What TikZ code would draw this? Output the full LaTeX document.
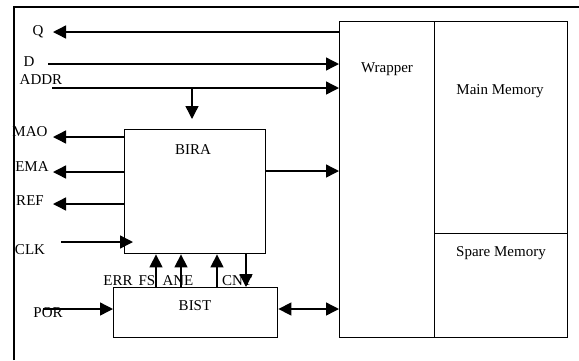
\documentclass[tikz,border=0pt]{standalone}
\usepackage{fontspec}
\setmainfont{Liberation Serif}
\usetikzlibrary{arrows.meta}
\begin{document}
\begin{tikzpicture}[x=1pt,y=-1pt, line width=1.4pt,
  box/.style={draw, line width=1.4pt, inner sep=0pt, anchor=north west},
  arr/.style={-{Triangle[length=13pt,width=13pt]}},
  darr/.style={{Triangle[length=13pt,width=13pt]}-{Triangle[length=13pt,width=13pt]}},
  lbl/.style={font=\fontsize{15}{17}\selectfont, inner sep=0pt}]
\useasboundingbox (0,0) rectangle (579,360);
% frame
\coordinate (fb) at (14,360);
\coordinate (fc) at (14,7);
\coordinate (fr) at (579,7);
\draw (fb) -- (fc) -- (fr);
% boxes
\node[box, minimum width=95pt, minimum height=316pt] (wrap) at (339,21) {};
\node[box, minimum width=133pt, minimum height=212pt] (main) at (434,21) {};
\node[box, minimum width=133pt, minimum height=104pt] (spare) at (434,233) {};
\node[box, minimum width=141pt, minimum height=124pt] (bira) at (124,129) {};
\node[box, minimum width=164pt, minimum height=50pt] (bist) at (113,287) {};
% box labels
\node[lbl] (twrap) at (387,69) {Wrapper};
\node[lbl] (tmain) at (500,91) {Main Memory};
\node[lbl] (tspare) at (501,253) {Spare Memory};
\node[lbl] (tbira) at (193,150) {BIRA};
\node[lbl] (tbist) at (195,306) {BIST};
% signal labels
\node[lbl] (lq) at (38,32) {Q};
\node[lbl] (ld) at (29,62) {D};
\node[lbl] (laddr) at (41,80) {ADDR};
\node[lbl] (lmao) at (30,132) {MAO};
\node[lbl] (lema) at (32,167) {EMA};
\node[lbl] (lref) at (30,201) {REF};
\node[lbl] (lclk) at (30,250) {CLK};
\node[lbl] (lpor) at (48,313) {POR};
\node[lbl] (lerr) at (118,281) {ERR};
\node[lbl] (lfs) at (147,281) {FS};
\node[lbl] (lane) at (178,281) {ANE};
\node[lbl] (lcnt) at (237,281) {CNT};
% coordinates
\coordinate (qend) at (53,32);
\coordinate (dst) at (48,64);
\coordinate (ast) at (52,88);
\coordinate (abr) at (192,88);
\coordinate (maoend) at (53,137);
\coordinate (emaend) at (53,172);
\coordinate (refend) at (53,204);
\coordinate (clkst) at (61,242);
\coordinate (outy) at (0,171);
\coordinate (porst) at (43,309);
\coordinate (x1) at (156,0);
\coordinate (x2) at (181,0);
\coordinate (x3) at (217,0);
\coordinate (x4) at (246,0);
% connectors
\draw[arr] (wrap.west |- qend) -- (qend);
\draw[arr] (dst) -- (dst -| wrap.west);
\draw[arr] (ast) -- (ast -| wrap.west);
\draw[arr] (abr) -- ([yshift=10pt]bira.north -| abr);
\draw[arr] (maoend -| bira.west) -- (maoend);
\draw[arr] (emaend -| bira.west) -- (emaend);
\draw[arr] (refend -| bira.west) -- (refend);
\draw[arr] (clkst) -- ([xshift=9pt]clkst -| bira.west);
\draw[arr] (bira.east |- outy) -- (outy -| wrap.west);
\draw[arr] (bist.north -| x1) -- (bira.south -| x1);
\draw[arr] (bist.north -| x2) -- (bira.south -| x2);
\draw[arr] (bist.north -| x3) -- (bira.south -| x3);
\draw[arr] (bira.south -| x4) -- (bist.north -| x4);
\draw[arr] (porst) -- (porst -| bist.west);
\draw[darr] (bist.east |- porst) -- (porst -| wrap.west);
\end{tikzpicture}
\end{document}
